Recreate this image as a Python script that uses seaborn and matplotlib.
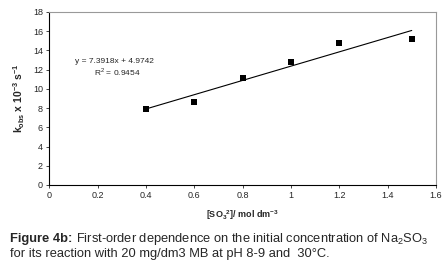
import numpy as np
import pandas as pd
import seaborn as sns
import matplotlib.pyplot as plt

# datos
conc = [0.4, 0.6, 0.8, 1.0, 1.2, 1.5]
kobs = [7.95, 8.6, 11.1, 12.8, 14.8, 15.2]
xticks = [0, 0.2, 0.4, 0.6, 0.8, 1, 1.2, 1.4, 1.6]
xticklabels = ['0', '0.2', '0.4', '0.6', '0.8', '1', '1.2', '1.4', '1.6']
yticks = [0, 2, 4, 6, 8, 10, 12, 14, 16, 18]

df = pd.DataFrame({'conc': conc, 'kobs': kobs})

sns.set_style('white')
plt.rcParams['font.family'] = ['Liberation Sans', 'DejaVu Sans']
plt.rcParams['mathtext.fontset'] = 'custom'
plt.rcParams['mathtext.rm'] = 'Liberation Sans'
plt.rcParams['mathtext.bf'] = 'Liberation Sans:bold'

fig = plt.figure(figsize=(4.48, 2.65), dpi=100)
ax = fig.add_axes([0.110, 0.302, 0.863, 0.653])

sns.regplot(x='conc', y='kobs', data=df, ci=None, ax=ax,
            marker='s', scatter_kws={'s': 14, 'color': 'black', 'alpha': 1,
                                     'linewidths': 0, 'zorder': 3},
            line_kws={'color': 'black', 'lw': 0.8})

ax.set_xlim(0, 1.6)
ax.set_ylim(0, 18)
ax.set_xticks(xticks)
ax.set_xticklabels(xticklabels)
ax.set_yticks(yticks)
ax.tick_params(labelsize=6.5, length=2.5, width=0.6, direction='out',
               left=True, bottom=True, pad=2)
for s in ['left', 'bottom']:
    ax.spines[s].set_color('black')
    ax.spines[s].set_linewidth(0.8)
for s in ['top', 'right']:
    ax.spines[s].set_color('#999999')
    ax.spines[s].set_linewidth(0.8)

ax.set_xlabel(r'[SO$_\mathbf{3}$$^\mathbf{2}$]/ mol dm$^\mathbf{-3}$', fontsize=6.5,
              fontweight='bold', labelpad=6)
ax.set_ylabel(r'k$_\mathbf{obs}$ x 10$^\mathbf{-3}$ s$^\mathbf{-1}$', fontsize=7.5,
              fontweight='bold', labelpad=4)

# texto del ajuste lineal (como en Excel)
ax.text(0.105, 12.8, 'y = 7.3918x + 4.9742', fontsize=6, va='center')
ax.text(0.185, 11.75, r'R$^2$ = 0.9454', fontsize=6, va='center')

# leyenda de la figura: parte en negrita y parte normal
t1 = fig.text(0.022, 0.085, 'Figure 4b: ', fontsize=9.3, fontweight='bold')
fig.canvas.draw()
bb = t1.get_window_extent(renderer=fig.canvas.get_renderer())
x2 = bb.x1 / fig.bbox.width
fig.text(x2, 0.085, r'First-order dependence on the initial concentration of Na$_2$SO$_3$',
         fontsize=9.3)
fig.text(0.022, 0.03, 'for its reaction with 20 mg/dm3 MB at pH 8-9 and  30°C.', fontsize=9.3)

plt.savefig('out.png', dpi=100)
